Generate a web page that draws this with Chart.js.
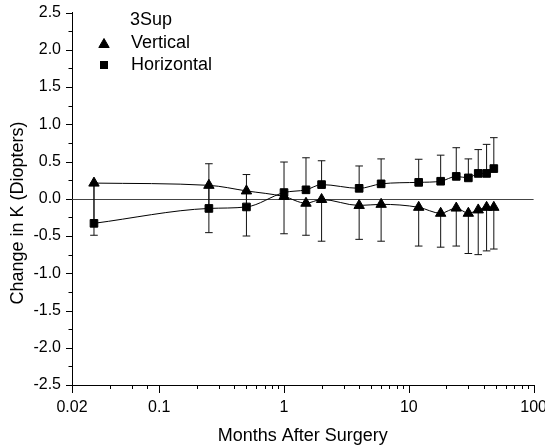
<!DOCTYPE html>
<html lang="en">
<head>
<meta charset="UTF-8">
<title>Change in K after surgery</title>
<script src="https://cdn.jsdelivr.net/npm/chart.js"></script>
<style>
  html, body { margin: 0; padding: 0; background: #fff; }
</style>
</head>
<body>
<canvas id="kChart" width="545" height="445"></canvas>
<script>
// months after surgery (x values)
const months = [0.03, 0.25, 0.5, 1, 1.5, 2, 4, 6, 12, 18, 24, 30, 36, 42, 48];

// Vertical meridian: mean change, error drawn downward
const vertical    = [0.21, 0.18, 0.105, 0.03, -0.06, -0.01, -0.09, -0.075, -0.115, -0.195, -0.125, -0.195, -0.15, -0.115, -0.115];
const verticalErr = [0.70, 0.635, 0.605, 0.50, 0.43, 0.56, 0.455, 0.495, 0.52, 0.455, 0.51, 0.54, 0.60, 0.585, 0.56];

// Horizontal meridian: mean change, error drawn upward
const horizontal    = [-0.33, -0.13, -0.11, 0.083, 0.12, 0.19, 0.14, 0.20, 0.22, 0.235, 0.30, 0.28, 0.34, 0.34, 0.405];
const horizontalErr = [0.54, 0.60, 0.435, 0.41, 0.43, 0.32, 0.30, 0.335, 0.31, 0.35, 0.385, 0.255, 0.32, 0.39, 0.415];

// axis ticks
const xMajorTicks = [0.02, 0.1, 1, 10, 100];
const xMinorTicks = [0.04, 0.06, 0.08,
                     0.2, 0.3, 0.4, 0.5, 0.6, 0.7, 0.8, 0.9,
                     2, 3, 4, 5, 6, 7, 8, 9,
                     20, 30, 40, 50, 60, 70, 80, 90];
const yTicks = [-2.5, -2.25, -2, -1.75, -1.5, -1.25, -1, -0.75, -0.5, -0.25, 0,
                0.25, 0.5, 0.75, 1, 1.25, 1.5, 1.75, 2, 2.25, 2.5];

const FONT = "'Liberation Sans', Arial, sans-serif";

function isMajorY(v) {
    return Math.abs(v * 2 - Math.round(v * 2)) < 1e-6;
}

// error bars + zero line, under the markers
const errorBars = {
    id: 'errorBars',
    beforeDatasetsDraw(chart) {
        const ctx = chart.ctx;
        const x = chart.scales.x, y = chart.scales.y;
        const area = chart.chartArea;
        ctx.save();
        // zero reference line
        const y0 = Math.round(y.getPixelForValue(0)) + 0.5;
        ctx.strokeStyle = '#444';
        ctx.lineWidth = 1;
        ctx.beginPath();
        ctx.moveTo(area.left, y0);
        ctx.lineTo(area.right, y0);
        ctx.stroke();

        ctx.strokeStyle = '#111';
        const series = [
            { vals: vertical, err: verticalErr, sign: -1 },
            { vals: horizontal, err: horizontalErr, sign: 1 }
        ];
        series.forEach(s => {
            months.forEach((m, i) => {
                const px = x.getPixelForValue(m);
                const pyA = y.getPixelForValue(s.vals[i]);
                const pyB = y.getPixelForValue(s.vals[i] + s.sign * s.err[i]);
                ctx.beginPath();
                ctx.moveTo(px, pyA);
                ctx.lineTo(px, pyB);
                ctx.moveTo(px - 3.8, pyB);
                ctx.lineTo(px + 3.8, pyB);
                ctx.stroke();
            });
        });
        ctx.restore();
    }
};

// tick marks (major longer than minor), y title, legend
const decorations = {
    id: 'decorations',
    afterDraw(chart) {
        const ctx = chart.ctx;
        const x = chart.scales.x, y = chart.scales.y;
        const area = chart.chartArea;
        ctx.save();
        ctx.strokeStyle = '#000';
        ctx.lineWidth = 1;
        ctx.beginPath();
        xMajorTicks.concat(xMinorTicks).forEach(v => {
            const px = Math.round(x.getPixelForValue(v)) + 0.5;
            const len = xMajorTicks.includes(v) ? 8 : 4;
            ctx.moveTo(px, area.bottom);
            ctx.lineTo(px, area.bottom + len);
        });
        yTicks.forEach(v => {
            const py = Math.round(y.getPixelForValue(v)) + 0.5;
            const len = isMajorY(v) ? 6 : 3.5;
            ctx.moveTo(area.left, py);
            ctx.lineTo(area.left - len, py);
        });
        ctx.stroke();

        // y axis title
        ctx.fillStyle = '#000';
        ctx.font = '18px ' + FONT;
        ctx.textAlign = 'center';
        ctx.textBaseline = 'middle';
        ctx.translate(18, 213);
        ctx.rotate(-Math.PI / 2);
        ctx.fillText('Change in K (Diopters)', 0, 0);
        ctx.setTransform(1, 0, 0, 1, 0, 0);

        // legend
        ctx.font = '18px ' + FONT;
        ctx.textAlign = 'left';
        ctx.fillText('3Sup', 130, 20.5);
        ctx.fillText('Vertical', 131, 43);
        ctx.fillText('Horizontal', 131, 65);
        const r = 6;
        ctx.beginPath();
        ctx.moveTo(104, 43 - r * 0.75);
        ctx.lineTo(104 + r * 0.866, 43 + r * 0.75);
        ctx.lineTo(104 - r * 0.866, 43 + r * 0.75);
        ctx.closePath();
        ctx.fill();
        ctx.stroke();
        ctx.fillRect(100, 61, 8, 8);
        ctx.restore();
    }
};

const ctx = document.getElementById('kChart').getContext('2d');
new Chart(ctx, {
    type: 'line',
    data: {
        datasets: [
            {
                label: 'Horizontal',
                data: months.map((m, i) => ({ x: m, y: horizontal[i] })),
                pointStyle: 'rect',
                pointRadius: 5.4,
                backgroundColor: '#000',
                borderColor: '#000',
                borderWidth: 1,
                pointBorderWidth: 1,
                cubicInterpolationMode: 'monotone',
                order: 0
            },
            {
                label: 'Vertical',
                data: months.map((m, i) => ({ x: m, y: vertical[i] })),
                pointStyle: 'triangle',
                pointRadius: 6,
                backgroundColor: '#000',
                borderColor: '#000',
                borderWidth: 1,
                pointBorderWidth: 1,
                cubicInterpolationMode: 'monotone',
                order: 1
            }
        ]
    },
    options: {
        responsive: false,
        animation: false,
        events: [],
        layout: { padding: { top: 12.5, right: 11.4, left: 0, bottom: 0 } },
        plugins: {
            legend: { display: false },
            tooltip: { enabled: false }
        },
        scales: {
            x: {
                type: 'logarithmic',
                min: 0.02,
                max: 100,
                afterBuildTicks: (scale) => {
                    scale.ticks = xMajorTicks.concat(xMinorTicks)
                        .sort((a, b) => a - b)
                        .map(v => ({ value: v }));
                },
                afterFit: (scale) => {
                    scale.height = 60;
                    scale.paddingLeft = 0;
                    scale.paddingRight = 0;
                },
                grid: { display: false, drawTicks: true, tickLength: 8 },
                border: { display: true, color: '#000', width: 1 },
                ticks: {
                    autoSkip: false,
                    maxRotation: 0,
                    padding: 5,
                    color: '#000',
                    font: { family: FONT, size: 16 },
                    callback: (v) => xMajorTicks.includes(v) ? String(v) : ''
                },
                title: {
                    display: true,
                    text: 'Months After Surgery',
                    color: '#000',
                    font: { family: FONT, size: 18, lineHeight: 1 },
                    padding: { top: 0, bottom: 0 }
                }
            },
            y: {
                min: -2.5,
                max: 2.5,
                afterBuildTicks: (scale) => {
                    scale.ticks = yTicks.map(v => ({ value: v }));
                },
                afterFit: (scale) => {
                    scale.width = 72;
                    scale.paddingTop = 0;
                    scale.paddingBottom = 0;
                },
                grid: { display: false, drawTicks: true, tickLength: 7 },
                border: { display: true, color: '#000', width: 1 },
                ticks: {
                    autoSkip: false,
                    padding: 4,
                    color: '#000',
                    font: { family: FONT, size: 16 },
                    callback: (v) => isMajorY(v) ? v.toFixed(1) : ''
                }
            }
        }
    },
    plugins: [errorBars, decorations]
});
</script>
</body>
</html>
